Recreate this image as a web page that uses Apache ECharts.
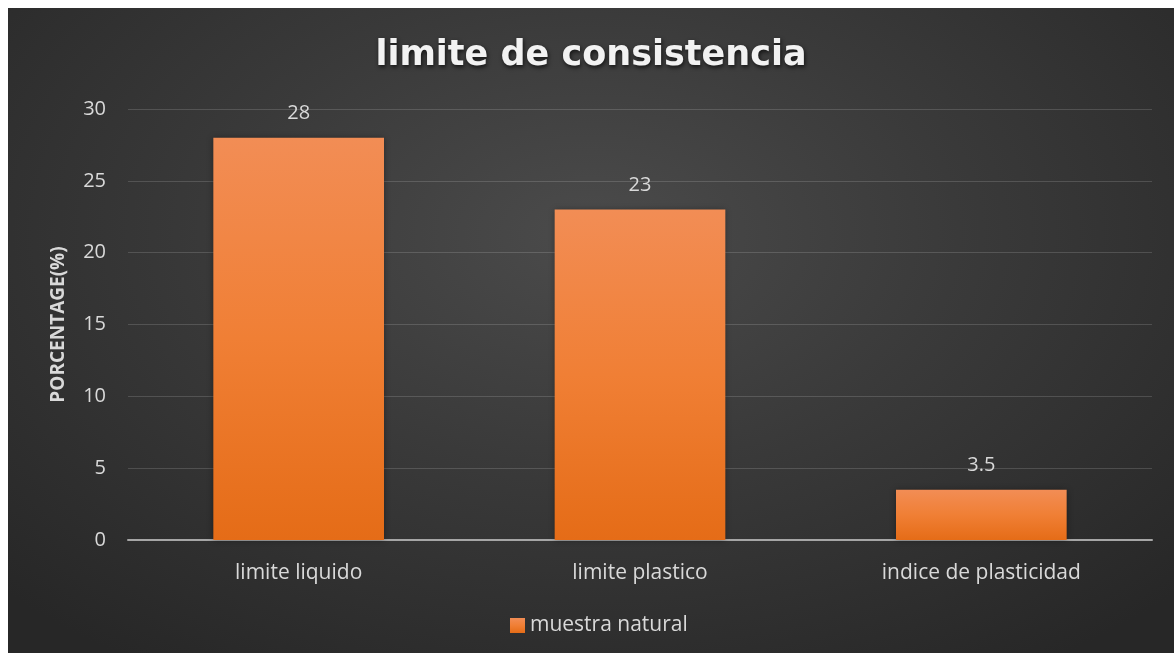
<!DOCTYPE html>
<html>
<head>
<meta charset="utf-8">
<script src="https://cdn.jsdelivr.net/npm/echarts@6/dist/echarts.min.js"></script>
<style>
  html, body { margin: 0; padding: 0; background: #ffffff; }
  #chart {
    position: absolute; left: 8px; top: 8px; width: 1166px; height: 645px;
    background: radial-gradient(ellipse 70% 80% at 50% 35%, #4b4b4b 0%, #3a3a3a 45%, #272727 100%);
  }
</style>
</head>
<body>
<div id="chart"></div>
<script>
const categories = ['limite liquido', 'limite plastico', 'indice de plasticidad'];
const values = [28, 23, 3.5];
const seriesName = 'muestra natural';
const chartTitle = 'limite de consistencia';
const yAxisName = 'PORCENTAGE(%)';

const FONT = '"Open Sans", sans-serif';
const chart = echarts.init(document.getElementById('chart'), null, { renderer: 'canvas' });

chart.setOption({
  backgroundColor: 'transparent',
  animation: false,
  title: {
    text: chartTitle,
    left: 'center',
    top: 25,
    textStyle: {
      color: '#f2f2f2',
      fontFamily: '"DejaVu Sans", sans-serif',
      fontWeight: 'bold',
      fontSize: 35,
      textShadowColor: 'rgba(0,0,0,0.7)',
      textShadowBlur: 4,
      textShadowOffsetX: 1,
      textShadowOffsetY: 2
    }
  },
  legend: {
    data: [seriesName],
    bottom: 12,
    left: 497,
    itemWidth: 15,
    itemHeight: 15,
    icon: 'rect',
    textStyle: { color: '#d9d9d9', fontFamily: FONT, fontSize: 21 }
  },
  grid: { left: 120, right: 22, top: 101, bottom: 113 },
  xAxis: {
    type: 'category',
    data: categories,
    axisLine: { lineStyle: { color: '#a6a6a6', width: 2 } },
    axisTick: { show: false },
    axisLabel: { color: '#d9d9d9', fontFamily: FONT, fontSize: 21, margin: 23 }
  },
  yAxis: {
    type: 'value',
    min: 0,
    max: 30,
    interval: 5,
    name: yAxisName,
    nameLocation: 'middle',
    nameGap: 60,
    nameTextStyle: { color: '#d9d9d9', fontFamily: FONT, fontWeight: 'bold', fontSize: 19 },
    axisLine: { show: false },
    axisTick: { show: false },
    axisLabel: { color: '#d9d9d9', fontFamily: FONT, fontSize: 20, margin: 22 },
    splitLine: { lineStyle: { color: 'rgba(255,255,255,0.15)', width: 1 } }
  },
  series: [{
    name: seriesName,
    type: 'bar',
    data: values,
    barWidth: '50%',
    itemStyle: {
      color: new echarts.graphic.LinearGradient(0, 0, 0, 1, [
        { offset: 0, color: '#f28d55' },
        { offset: 0.5, color: '#f07f35' },
        { offset: 1, color: '#e56c17' }
      ]),
      shadowColor: 'rgba(0,0,0,0.35)',
      shadowBlur: 6
    },
    label: {
      show: true,
      position: 'top',
      distance: 14,
      color: '#d9d9d9',
      fontFamily: FONT,
      fontSize: 20
    }
  }]
});
</script>
</body>
</html>
